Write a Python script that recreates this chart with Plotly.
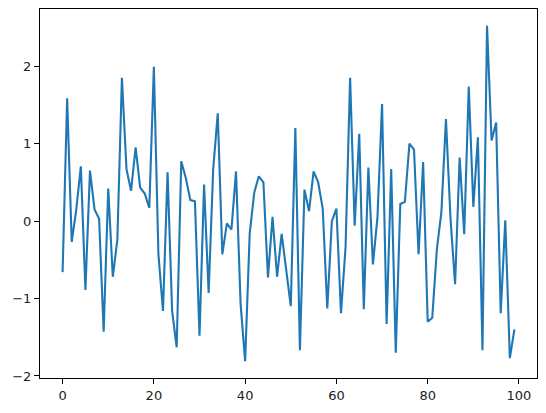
import plotly.graph_objects as go

# values (index 0..99)
x_vals = list(range(100))
y_vals = [
    -0.66, 1.585, -0.27, 0.15, 0.705, -0.89, 0.65, 0.15, 0.03, -1.43,
    0.42, -0.72, -0.24, 1.85, 0.67, 0.39, 0.95, 0.43, 0.355, 0.17,
    1.99, -0.43, -1.16, 0.63, -1.16, -1.63, 0.77, 0.556, 0.27, 0.255,
    -1.48, 0.47, -0.93, 0.67, 1.39, -0.43, -0.03, -0.11, 0.64, -1.07,
    -1.81, -0.16, 0.37, 0.577, 0.50, -0.73, 0.054, -0.72, -0.165, -0.62,
    -1.10, 1.20, -1.667, 0.405, 0.126, 0.64, 0.50, 0.16, -1.13, -0.003,
    0.16, -1.19, -0.34, 1.85, -0.06, 1.126, -1.14, 0.69, -0.56, 0.054,
    1.51, -1.33, 0.67, -1.70, 0.22, 0.247, 1.0, 0.92, -0.43, 0.76,
    -1.30, -1.25, -0.37, 0.113, 1.315, 0.03, -0.817, 0.82, -0.17, 1.735,
    0.183, 1.08, -1.667, 2.52, 1.04, 1.27, -1.19, 0.01, -1.77, -1.40,
]
x_ticks = [0, 20, 40, 60, 80, 100]
y_ticks = [-2, -1, 0, 1, 2]

# matplotlib-style 5% margins
xmin, xmax = min(x_vals), max(x_vals)
ymin, ymax = min(y_vals), max(y_vals)
xpad = 0.05 * (xmax - xmin)
ypad = 0.05 * (ymax - ymin)

fig = go.Figure()
fig.add_trace(go.Scatter(x=x_vals, y=y_vals, mode="lines",
                         line=dict(color="#1f77b4", width=2.1)))

axis_style = dict(showgrid=False, zeroline=False, showline=True, mirror=True,
                  linecolor="black", linewidth=1.1, ticks="outside",
                  ticklen=5, tickwidth=1.1, tickcolor="black",
                  tickfont=dict(family="DejaVu Sans", size=13, color="#222"))

# page body has an 8px margin, so the figure is a bit smaller than the window
fig.update_layout(
    width=538, height=405,
    margin=dict(l=32, r=9, t=1, b=35),
    paper_bgcolor="white", plot_bgcolor="white",
    showlegend=False,
    xaxis=dict(range=[xmin - xpad, xmax + xpad], tickvals=x_ticks, **axis_style),
    yaxis=dict(range=[ymin - ypad, ymax + ypad], tickvals=y_ticks, **axis_style),
)

fig.write_html("out.html")
